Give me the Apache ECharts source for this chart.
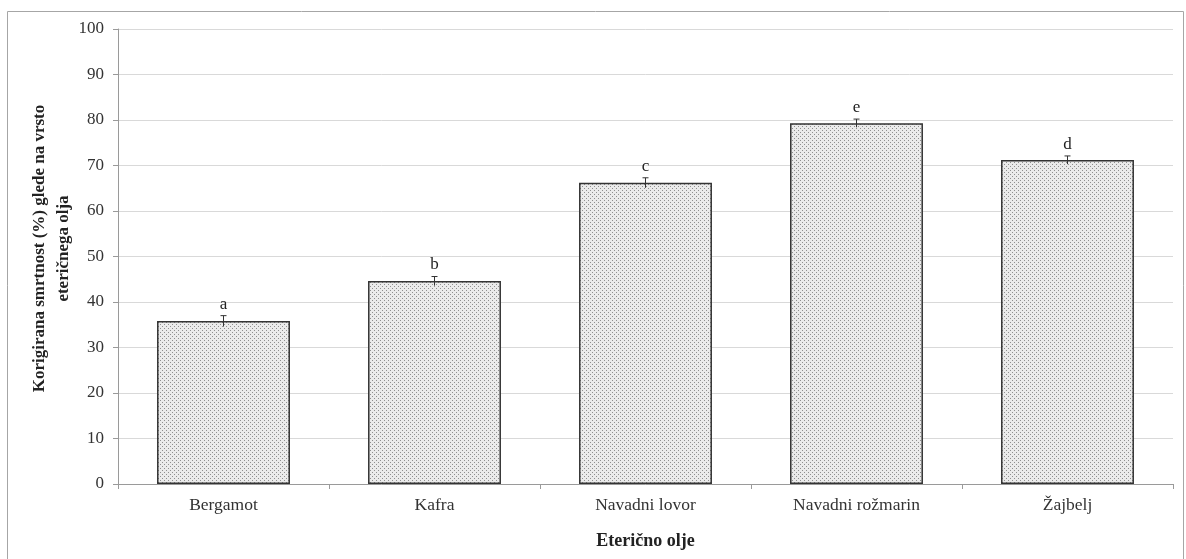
<!DOCTYPE html>
<html><head><meta charset="utf-8">
<script src="https://cdn.jsdelivr.net/npm/echarts@6/dist/echarts.min.js"></script>
<style>html,body{margin:0;padding:0;background:#fff}#c{width:1186px;height:559px}</style>
</head><body><div id="c"></div>
<script>
const categories = ['Bergamot', 'Kafra', 'Navadni lovor', 'Navadni rožmarin', 'Žajbelj'];
const values = [35.8, 44.6, 66.2, 79.3, 71.2];
const errors = [1.2, 1.0, 1.1, 0.9, 0.9];
const letters = ['a', 'b', 'c', 'e', 'd'];
const yTicks = [0, 10, 20, 30, 40, 50, 60, 70, 80, 90, 100];

function makePattern() {
  const c = document.createElement('canvas');
  c.width = 4; c.height = 4;
  const g = c.getContext('2d');
  g.fillStyle = '#ebebeb'; g.fillRect(0, 0, 4, 4);
  g.fillStyle = '#8f8f8f';
  g.fillRect(0, 0, 1, 1);
  g.fillRect(2, 2, 1, 1);
  return c;
}
const FONT = '"Liberation Serif", "DejaVu Serif", serif';
const chart = echarts.init(document.getElementById('c'));
chart.setOption({
  animation: false,
  backgroundColor: '#fff',
  graphic: [{
    type: 'rect', shape: { x: 7.5, y: 11.5, width: 1176, height: 600 },
    style: { fill: 'none', stroke: '#a6a6a6', lineWidth: 1 }, silent: true, z: -1
  }],
  grid: { left: 118, right: 13, top: 29, bottom: 75 },
  xAxis: {
    type: 'category', data: categories,
    name: 'Eterično olje', nameLocation: 'middle', nameGap: 48,
    nameTextStyle: { fontFamily: FONT, fontSize: 18, fontWeight: 'bold', color: '#222' },
    axisLine: { lineStyle: { color: '#9a9a9a', width: 1 } },
    axisTick: { show: true, length: 5, lineStyle: { color: '#9a9a9a' } },
    axisLabel: { fontFamily: FONT, fontSize: 17.5, color: '#333', margin: 12 }
  },
  yAxis: {
    type: 'value', min: 0, max: 100, interval: 10,
    name: 'Korigirana smrtnost (%) glede na vrsto\neteričnega olja',
    nameLocation: 'middle', nameGap: 42, nameRotate: 90, nameMoveOverlap: false,
    nameTextStyle: { fontFamily: FONT, fontSize: 17, fontWeight: 'bold', color: '#222', lineHeight: 24, padding: [0, 0, 0, 16] },
    axisLine: { show: true, lineStyle: { color: '#9a9a9a', width: 1 } },
    axisTick: { show: true, length: 5, lineStyle: { color: '#9a9a9a' } },
    axisLabel: { fontFamily: FONT, fontSize: 17, color: '#333', margin: 14,
      formatter: v => yTicks.includes(v) ? String(v) : '' },
    splitLine: { lineStyle: { color: '#d9d9d9', width: 1 } }
  },
  series: [{
    type: 'bar', data: values, barCategoryGap: '37%',
    itemStyle: { color: { image: makePattern(), repeat: 'repeat' }, borderColor: '#333', borderWidth: 1.5 },
    z: 2
  }, {
    type: 'custom',
    data: values.map((v, i) => [i, v, errors[i], letters[i]]),
    renderItem: function (params, api) {
      const i = api.value(0), v = api.value(1), e = api.value(2);
      const top = api.coord([i, v + e]);
      const low = api.coord([i, v - e]);
      const cw = 6;
      return {
        type: 'group', children: [
          { type: 'line', shape: { x1: top[0], y1: top[1], x2: low[0], y2: low[1] }, style: { stroke: '#333', lineWidth: 1 } },
          { type: 'line', shape: { x1: top[0] - cw / 2, y1: top[1], x2: top[0] + cw / 2, y2: top[1] }, style: { stroke: '#333', lineWidth: 1 } },
          { type: 'text', x: top[0], y: top[1] - 3, style: { text: letters[i], fontFamily: FONT, fontSize: 17, fill: '#222', align: 'center', verticalAlign: 'bottom' } }
        ]
      };
    },
    z: 3
  }]
});
</script></body></html>
